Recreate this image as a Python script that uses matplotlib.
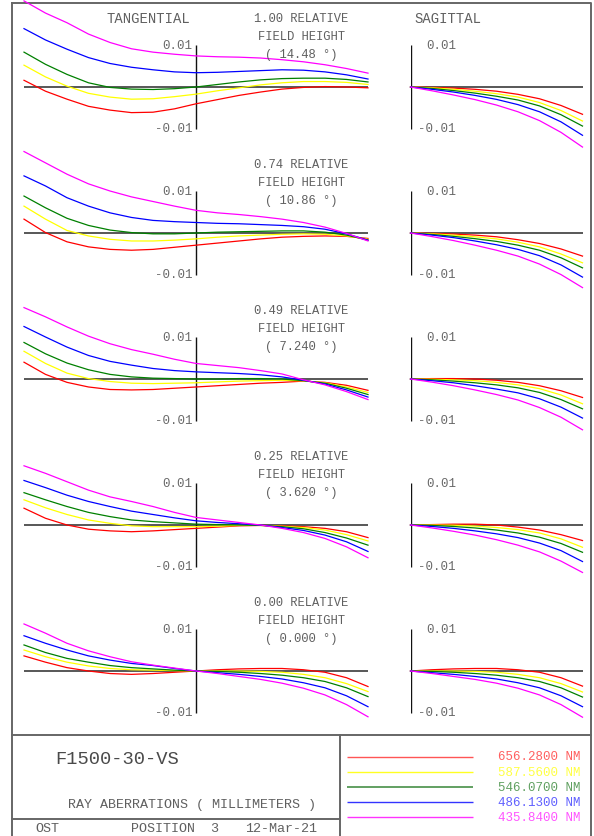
import matplotlib.pyplot as plt

W, H = 594, 837

pupil_t = [-1, -0.875, -0.75, -0.625, -0.5, -0.375, -0.25, -0.125, 0,
           0.125, 0.25, 0.375, 0.5, 0.625, 0.75, 0.875, 1]
pupil_s = [0, 0.125, 0.25, 0.375, 0.5, 0.625, 0.75, 0.875, 1.0]

wavelengths = ["656.2800", "587.5600", "546.0700", "486.1300", "435.8400"]
colors = ["#ff0000", "#ffff00", "#008000", "#0000ff", "#ff00ff"]
key_colors = ["#ff5555", "#ffff22", "#559955", "#3333ff", "#ff33ff"]
label_colors = ["#ff6060", "#ffff44", "#60a060", "#6060ff", "#ff55ff"]

fields = ["1.00", "0.74", "0.49", "0.25", "0.00"]
angles = ["14.48", "10.86", "7.240", "3.620", "0.000"]

# ray errors in microns; rows are red, yellow, green, blue, magenta
tan_100 = [
    [1.6, -1.0, -2.9, -4.6, -5.5, -6.1, -6.0, -5.2, -4.0, -3.0, -2.0, -1.2, -0.5, -0.1, 0.1, 0.0, -0.2],
    [5.2, 2.4, 0.2, -1.5, -2.4, -2.9, -2.8, -2.3, -1.7, -0.9, -0.2, 0.5, 1.0, 1.3, 1.3, 1.1, 0.6],
    [8.3, 5.4, 3.0, 1.0, -0.1, -0.5, -0.6, -0.4, 0.0, 0.6, 1.2, 1.7, 2.0, 2.1, 2.1, 1.8, 1.2],
    [13.9, 11.2, 9.0, 7.0, 5.6, 4.7, 4.1, 3.6, 3.4, 3.5, 3.7, 3.9, 4.1, 4.0, 3.6, 2.9, 1.9],
    [20.5, 17.6, 15.3, 12.6, 10.6, 9.1, 8.3, 7.8, 7.4, 7.2, 7.1, 6.9, 6.5, 6.0, 5.3, 4.4, 3.3],
]
tan_074 = [
    [3.3, 0.1, -2.1, -3.3, -3.9, -4.1, -3.9, -3.4, -2.9, -2.4, -1.9, -1.4, -1.0, -0.8, -0.7, -0.8, -1.3],
    [6.4, 3.3, 0.6, -0.7, -1.5, -1.9, -1.9, -1.7, -1.4, -1.0, -0.7, -0.5, -0.3, -0.2, -0.3, -0.7, -1.5],
    [8.8, 6.0, 3.5, 1.8, 0.7, 0.1, -0.2, -0.2, 0.0, 0.2, 0.3, 0.4, 0.5, 0.5, 0.2, -0.5, -1.7],
    [13.6, 11.2, 8.4, 6.4, 4.8, 3.7, 3.0, 2.7, 2.5, 2.3, 2.2, 2.0, 1.8, 1.5, 0.9, -0.2, -1.7],
    [19.4, 16.7, 14.0, 11.7, 10.0, 8.6, 7.5, 6.4, 5.4, 4.8, 4.4, 3.9, 3.3, 2.5, 1.4, -0.1, -1.9],
]
tan_049 = [
    [4.0, 1.1, -0.8, -1.9, -2.5, -2.6, -2.5, -2.2, -1.9, -1.6, -1.3, -1.0, -0.8, -0.5, -0.8, -1.5, -2.7],
    [6.6, 3.7, 1.4, 0.1, -0.6, -1.0, -1.1, -1.0, -0.9, -0.7, -0.5, -0.4, -0.3, -0.45, -0.9, -1.9, -3.2],
    [8.7, 6.0, 3.8, 2.2, 1.1, 0.5, 0.2, 0.1, 0.0, 0.0, 0.1, 0.1, 0.0, -0.4, -1.0, -2.2, -3.7],
    [12.5, 10.0, 7.6, 5.6, 4.2, 3.3, 2.5, 2.0, 1.7, 1.5, 1.3, 1.0, 0.5, -0.3, -1.2, -2.6, -4.3],
    [17.0, 14.8, 12.4, 10.2, 8.4, 7.0, 5.9, 4.7, 3.7, 3.2, 2.7, 2.0, 1.2, -0.2, -1.4, -3.0, -4.9],
]
tan_025 = [
    [4.0, 1.6, 0.0, -1.0, -1.4, -1.6, -1.4, -1.1, -0.8, -0.5, -0.2, -0.1, -0.2, -0.4, -0.8, -1.6, -3.0],
    [6.0, 4.1, 2.5, 1.2, 0.4, -0.2, -0.4, -0.4, -0.4, -0.3, -0.1, -0.1, -0.3, -0.6, -1.2, -2.3, -3.8],
    [7.7, 6.0, 4.4, 3.0, 2.0, 1.2, 0.8, 0.5, 0.2, 0.1, 0.0, -0.1, -0.4, -0.9, -1.8, -3.1, -4.8],
    [10.6, 8.9, 7.1, 5.6, 4.4, 3.3, 2.5, 1.7, 1.0, 0.6, 0.3, 0.0, -0.6, -1.3, -2.4, -4.0, -6.3],
    [14.1, 12.3, 10.3, 8.3, 6.7, 5.6, 4.4, 3.0, 1.8, 1.2, 0.6, 0.0, -0.8, -1.8, -3.2, -5.2, -7.8],
]
tan_000 = [
    [3.6, 2.1, 0.8, 0.0, -0.6, -0.8, -0.6, -0.3, 0.0, 0.3, 0.5, 0.6, 0.6, 0.3, -0.3, -1.6, -3.7],
    [5.0, 3.4, 2.1, 1.2, 0.6, 0.3, 0.2, 0.1, 0.0, 0.0, 0.0, -0.1, -0.3, -0.8, -1.6, -3.0, -4.9],
    [6.2, 4.4, 3.0, 2.1, 1.3, 0.8, 0.5, 0.2, 0.0, -0.1, -0.3, -0.6, -1.0, -1.6, -2.5, -4.0, -6.1],
    [8.4, 6.6, 5.0, 3.6, 2.6, 1.8, 1.3, 0.6, 0.0, -0.4, -0.8, -1.3, -1.9, -2.8, -4.0, -5.9, -8.5],
    [11.2, 9.0, 6.6, 4.8, 3.4, 2.2, 1.4, 0.7, 0.0, -0.6, -1.3, -2.0, -2.9, -4.1, -5.7, -8.0, -10.9],
]

sag_100 = [
    [0, -0.1, -0.25, -0.55, -1.0, -1.75, -2.8, -4.4, -6.5],
    [0, -0.2, -0.55, -1.0, -1.6, -2.4, -3.7, -5.6, -8.1],
    [0, -0.35, -0.85, -1.45, -2.2, -3.1, -4.5, -6.6, -9.3],
    [0, -0.55, -1.2, -2.0, -2.95, -4.2, -5.9, -8.3, -11.5],
    [0, -0.9, -1.9, -3.0, -4.3, -5.9, -8.0, -10.8, -14.3],
]
sag_074 = [
    [0, -0.1, -0.25, -0.5, -0.9, -1.6, -2.5, -3.8, -5.5],
    [0, -0.2, -0.5, -0.9, -1.4, -2.2, -3.3, -5.0, -7.1],
    [0, -0.35, -0.8, -1.35, -2.0, -2.9, -4.1, -5.9, -8.3],
    [0, -0.5, -1.1, -1.9, -2.8, -3.9, -5.4, -7.6, -10.5],
    [0, -0.85, -1.8, -2.9, -4.1, -5.5, -7.4, -9.9, -13.0],
]
sag_049 = [
    [0, 0.1, 0.1, 0.0, -0.3, -0.8, -1.6, -2.8, -4.4],
    [0, -0.05, -0.2, -0.4, -0.8, -1.4, -2.3, -3.8, -5.9],
    [0, -0.2, -0.5, -0.9, -1.4, -2.1, -3.2, -4.9, -7.1],
    [0, -0.4, -0.9, -1.6, -2.4, -3.3, -4.7, -6.7, -9.3],
    [0, -0.75, -1.6, -2.6, -3.7, -5.0, -6.8, -9.1, -12.1],
]
sag_025 = [
    [0, 0.1, 0.2, 0.2, 0.0, -0.5, -1.2, -2.3, -3.7],
    [0, 0.0, -0.05, -0.25, -0.6, -1.1, -1.9, -3.3, -5.3],
    [0, -0.1, -0.35, -0.7, -1.2, -1.9, -2.9, -4.4, -6.5],
    [0, -0.35, -0.8, -1.4, -2.1, -3.0, -4.3, -6.1, -8.7],
    [0, -0.7, -1.5, -2.4, -3.5, -4.8, -6.4, -8.6, -11.3],
]
sag_000 = [
    [0, 0.3, 0.5, 0.6, 0.6, 0.3, -0.3, -1.6, -3.6],
    [0, 0.0, 0.0, -0.1, -0.3, -0.8, -1.6, -3.0, -5.0],
    [0, -0.1, -0.3, -0.6, -1.0, -1.6, -2.5, -4.0, -6.2],
    [0, -0.4, -0.8, -1.3, -1.9, -2.8, -4.0, -5.9, -8.5],
    [0, -0.6, -1.3, -2.0, -2.9, -4.1, -5.7, -8.0, -11.0],
]

tan_rows = [tan_100, tan_074, tan_049, tan_025, tan_000]
sag_rows = [sag_100, sag_074, sag_049, sag_025, sag_000]

FONT = "Liberation Mono"
GRAY = "#606060"


def fbox(x0, y0, w, h):
    # pixel box (top-left origin) -> figure fraction
    return [x0 / W, 1 - (y0 + h) / H, w / W, h / H]


def ftext(x, y, s, **kw):
    kw.setdefault("family", FONT)
    kw.setdefault("color", GRAY)
    kw.setdefault("va", "center")
    fig.text(x / W, 1 - y / H, s, **kw)


fig = plt.figure(figsize=(W / 100, H / 100), dpi=100)

# frame
frame = fig.add_axes([0, 0, 1, 1])
frame.set_xlim(0, W)
frame.set_ylim(H, 0)
frame.axis("off")
fk = dict(color="#666666", lw=1.4)
frame.plot([12, 591, 591, 12, 12], [4, 4, 840, 840, 4], **fk)
frame.plot([12, 591], [736, 736], **fk)
frame.plot([340, 340], [736, 840], **fk)
frame.plot([12, 340], [820, 820], **fk)

half = 73 / 4.2  # microns shown above/below zero in each row
for i in range(5):
    zy = 88 + 146 * i
    axt = fig.add_axes(fbox(24, zy - 73, 344, 146))
    axs = fig.add_axes(fbox(410.5, zy - 73, 172, 146))
    for ax, xl in ((axt, (-1, 1)), (axs, (0, 1))):
        ax.set_xlim(*xl)
        ax.set_ylim(-half, half)
        ax.axis("off")
        ax.patch.set_alpha(0)
        ax.axhline(0, color="#4a4a4a", lw=1.3, zorder=1)
        ax.vlines(0, -10, 10, color="#111111", lw=1.0, zorder=1)
    for k in range(5):
        axt.plot(pupil_t, tan_rows[i][k], color=colors[k], lw=0.9,
                 clip_on=False, zorder=3 + k)
        axs.plot(pupil_s, sag_rows[i][k], color=colors[k], lw=0.9,
                 clip_on=False, zorder=3 + k)

    ftext(192, zy - 42, "0.01", ha="right", fontsize=9, color="#6a6a6a")
    ftext(192, zy + 41, "-0.01", ha="right", fontsize=9, color="#6a6a6a")
    ftext(426, zy - 42, "0.01", ha="left", fontsize=9, color="#6a6a6a")
    ftext(418, zy + 41, "-0.01", ha="left", fontsize=9, color="#6a6a6a")

    ftext(301, zy - 69, fields[i] + " RELATIVE", ha="center", fontsize=8.7)
    ftext(301, zy - 51, "FIELD HEIGHT", ha="center", fontsize=8.7)
    ftext(301, zy - 33, "( " + angles[i] + " \u00b0)", ha="center", fontsize=8.7)

ftext(148, 19, "TANGENTIAL", ha="center", fontsize=10)
ftext(448, 19, "SAGITTAL", ha="center", fontsize=10)

# title block
ftext(55, 760, "F1500-30-VS", ha="left", fontsize=13.5, color="#4a4a4a")
ftext(192, 805, "RAY ABERRATIONS ( MILLIMETERS )", ha="center", fontsize=9.6)
ftext(35, 829, "OST", ha="left", fontsize=9.6)
ftext(131, 829, "POSITION  3", ha="left", fontsize=9.6)
ftext(245, 829, "12-Mar-21", ha="left", fontsize=9.6)

# wavelength key
key = fig.add_axes(fbox(340, 736, 251, 101))
key.set_xlim(340, 591)
key.set_ylim(101, 0)
key.axis("off")
for k in range(5):
    yk = 21.5 + 15.2 * k
    key.hlines(yk, 347, 473, color=key_colors[k], lw=1.3 if k == 2 else 1.0)
    ftext(580, 736 + yk, wavelengths[k] + " NM", ha="right", fontsize=9,
          color=label_colors[k])

fig.savefig("out.png", dpi=100)
